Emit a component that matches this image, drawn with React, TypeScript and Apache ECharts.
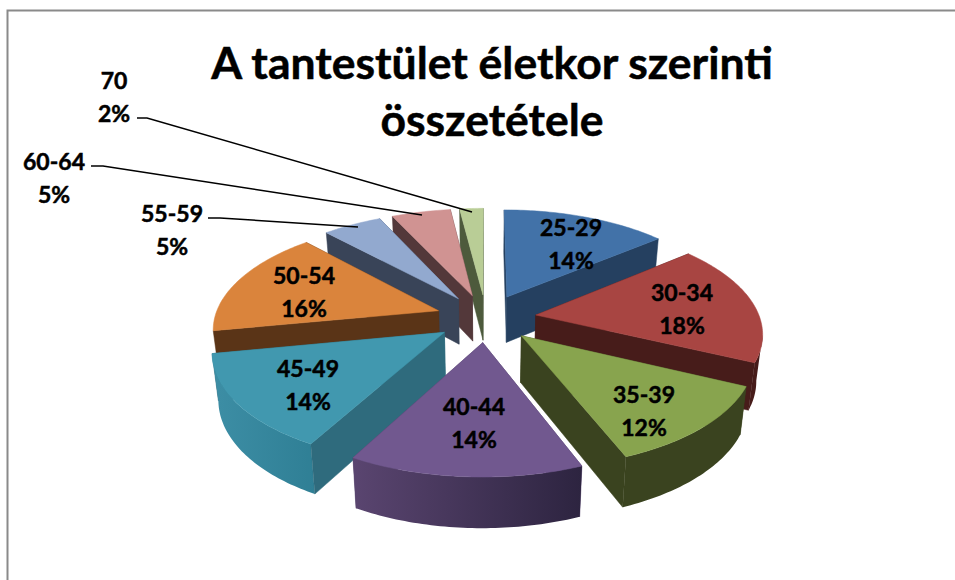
import React, { useEffect, useRef } from "react";
import * as echarts from "echarts";

const categories = ["25-29", "30-34", "35-39", "40-44", "45-49", "50-54", "55-59", "60-64", "70"];
const shares = [14, 18, 12, 14, 14, 16, 5, 5, 2];
const titleLines = ["A tantestület életkor szerinti", "összetétele"];

const topColors = ["#4272A8", "#A84542", "#88A44E", "#71588F", "#4198AF", "#DA843C", "#92A9CF", "#D09392", "#B9CD96"];
const rimColors: [string, string][] = [
  ["#254060", "#254060"], ["#471C1A", "#471C1A"], ["#3A431F", "#3A431F"],
  ["#5A4570", "#2D2440"], ["#3D8EA5", "#2F7F95"], ["#5A3417", "#5A3417"],
  ["#394458", "#394458"], ["#53383A", "#53383A"], ["#4D5A3C", "#4D5A3C"],
];
const wallColors = ["#254060", "#471C1A", "#3A431F", "#4E3D66", "#2F6B7D", "#5A3417", "#394458", "#53383A", "#4D5A3C"];

const CX = 486, CY = 318, R = 224, T = 106, K = 0.15, H = 46, EXPLODE = 0.225, INWARD = 0.0005;
const FONT = "Lato, Carlito, 'Open Sans', sans-serif";

const project = (u: number, v: number, z = 0): number[] => {
  const p = 1 / (1 - K * v);
  const x = R * u * p * (1 - z * INWARD);
  return [CX + x, CY + T * v * p + z * (1 + (p - 1) * 0.5)];
};

const total = shares.reduce((a, b) => a + b, 0);

function renderSlice(params: any) {
  const i = params.dataIndex;
  const before = shares.slice(0, i).reduce((a, b) => a + b, 0);
  const a0 = (before / total) * Math.PI * 2;
  const a1 = ((before + shares[i]) / total) * Math.PI * 2;
  const mid = (a0 + a1) / 2;
  const ox = EXPLODE * Math.sin(mid);
  const oy = -EXPLODE * Math.cos(mid);
  const depth = -Math.cos(mid);
  const z2 = Math.round((depth + 2) * 100);

  const disk: number[][] = [[ox, oy]];
  const steps = Math.max(4, Math.ceil(((a1 - a0) * 180) / Math.PI));
  for (let s = 0; s <= steps; s++) {
    const a = a0 + ((a1 - a0) * s) / steps;
    disk.push([ox + Math.sin(a), oy - Math.cos(a)]);
  }
  const top = disk.map((d) => project(d[0], d[1]));
  const low = disk.map((d) => project(d[0], d[1], H));

  const hidden: any[] = [];
  const visible: any[] = [];
  const n = disk.length;
  const wallPoly = (a: number, b: number) => [top[a], top[b], low[b], low[a]];
  const firstVisible = top[1][0] - top[0][0] < 0;
  const lastVisible = top[0][0] - top[n - 1][0] < 0;
  const wall = (pts: number[][], on: boolean) =>
    (on ? visible : hidden).push({
      type: "polygon",
      silent: true,
      z2: z2 + (on ? 2 : 0),
      shape: { points: pts },
      style: { fill: wallColors[i], stroke: wallColors[i], lineWidth: 0.5 },
    });
  wall(wallPoly(0, 1), firstVisible);
  wall(wallPoly(n - 1, 0), lastVisible);

  const rimTop: number[][] = [];
  const rimLow: number[][] = [];
  for (let s = 1; s < n - 1; s++) {
    if (top[s + 1][0] - top[s][0] < 0) {
      if (!rimTop.length) {
        rimTop.push(top[s]);
        rimLow.push(low[s]);
      }
      rimTop.push(top[s + 1]);
      rimLow.push(low[s + 1]);
    }
  }
  if (rimTop.length) {
    visible.push({
      type: "polygon",
      silent: true,
      z2: z2 + 1,
      shape: { points: rimTop.concat(rimLow.slice().reverse()) },
      style: {
        fill: new echarts.graphic.LinearGradient(1, 0, 0, 0, [
          { offset: 0, color: rimColors[i][1] },
          { offset: 1, color: rimColors[i][0] },
        ]),
      },
    });
  }

  return {
    type: "group",
    children: [
      ...hidden,
      ...visible,
      {
        type: "polygon",
        silent: true,
        z2: z2 + 3,
        shape: { points: top },
        style: { fill: topColors[i], stroke: topColors[i], lineWidth: 0.5 },
      },
    ],
  };
}

const labelCenters = [
  [571, 243], [682, 308], [644, 410], [474, 422], [308, 384], [304, 291], [172, 229], [54, 177], [114, 96],
];
const leaders: (number[][] | null)[] = [
  null, null, null, null, null, null,
  [[208, 218], [220, 218], [358, 227]],
  [[91, 166], [103, 166], [422, 215]],
  [[137, 118], [147, 118], [472, 212]],
];

export default function App() {
  const ref = useRef<HTMLDivElement>(null);
  useEffect(() => {
    const chart = echarts.init(ref.current!, undefined, { renderer: "svg" });
    const labelGraphics: any[] = [];
    categories.forEach((c, i) => {
      [c, `${shares[i]}%`].forEach((t, l) => {
        labelGraphics.push({
          type: "text",
          x: labelCenters[i][0],
          y: labelCenters[i][1] + (l === 0 ? -16.5 : 16.5),
          z: 20,
          silent: true,
          style: {
            text: t,
            font: `bold 23px ${FONT}`,
            fill: "#000",
            stroke: "#000",
            lineWidth: 0.5,
            textAlign: "center",
            textVerticalAlign: "middle",
          },
        });
      });
      const line = leaders[i];
      if (line) {
        labelGraphics.push({
          type: "polyline",
          z: 20,
          silent: true,
          shape: { points: line },
          style: { stroke: "#000", lineWidth: 1.5, fill: "none" },
        });
      }
    });
    chart.setOption({
      animation: false,
      backgroundColor: "#fff",
      title: {
        text: titleLines.join("\n"),
        left: 487,
        top: 28,
        textAlign: "center",
        textStyle: {
          fontFamily: FONT,
          fontWeight: "bold",
          fontSize: 44.5,
          lineHeight: 57,
          color: "#000",
          textBorderColor: "#000",
          textBorderWidth: 0.5,
        },
      },
      series: [
        {
          type: "custom",
          coordinateSystem: "none",
          silent: true,
          clip: false,
          renderItem: renderSlice,
          data: shares.map((v) => [v]),
        },
      ],
      graphic: [
        {
          type: "polyline",
          silent: true,
          z: 20,
          shape: { points: [[7.5, 580], [7.5, 10.5], [955, 10.5]] },
          style: { stroke: "#8A8A8A", lineWidth: 2, fill: "none" },
        },
        ...labelGraphics,
      ],
    });
    return () => chart.dispose();
  }, []);
  return <div ref={ref} style={{ position: "fixed", left: 0, top: 0, width: 955, height: 580 }} />;
}
